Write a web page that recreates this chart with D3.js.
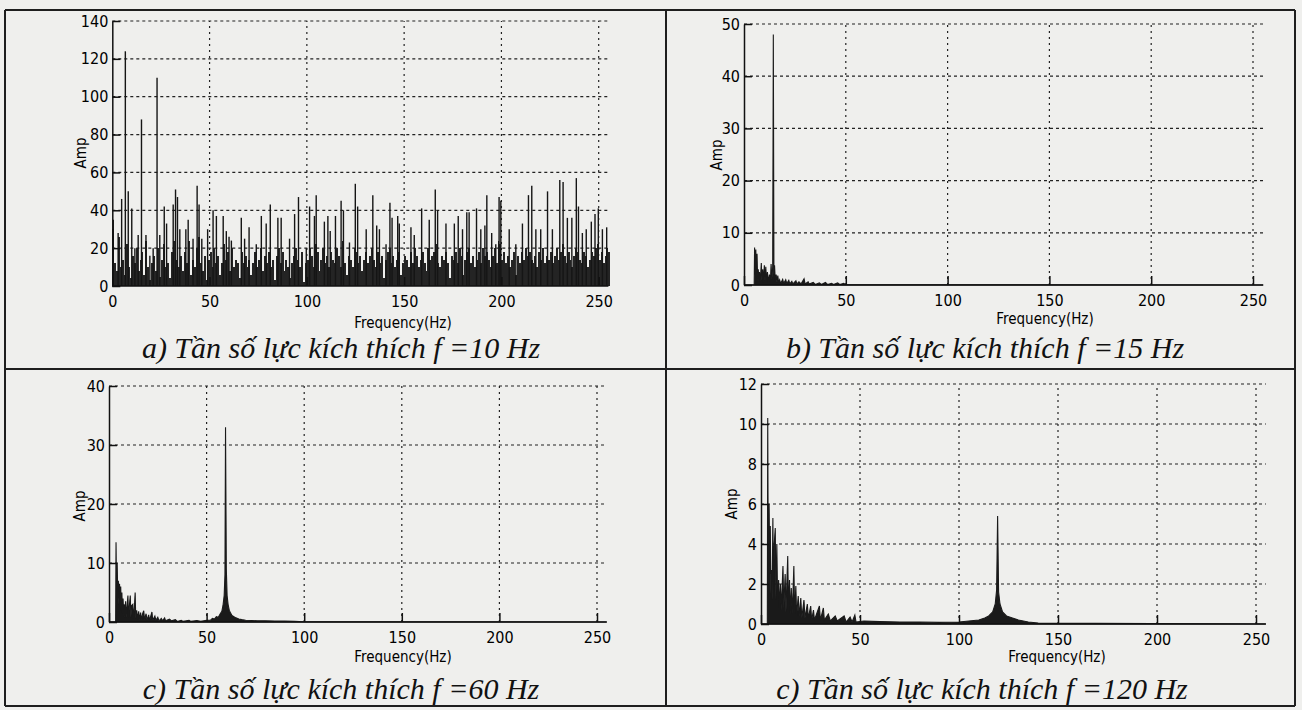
<!DOCTYPE html>
<html lang="vi">
<head>
<meta charset="utf-8">
<title>Phổ biên độ</title>
<script src="https://cdn.jsdelivr.net/npm/d3@7"></script>
<style>
  body { margin: 0; background: #efefed; }
  .frame line { stroke: #1e1e1e; stroke-width: 2; }
  .grid line { stroke: #222; stroke-width: 1.2; }
  .grid line.h { stroke-dasharray: 3, 3; }
  .grid line.v { stroke-dasharray: 2, 4; }
  .axis path, .axis line { stroke: #111; stroke-width: 1.5; }
  .axis text {
    font-family: "Liberation Sans Narrow", "DejaVu Sans Condensed", sans-serif;
    font-size: 16px;
    fill: #000;
  }
  .lbl {
    font-family: "Liberation Sans Narrow", "DejaVu Sans Condensed", sans-serif;
    font-size: 15px;
    fill: #000;
  }
  .caption {
    font-family: "Liberation Serif", serif;
    font-style: italic;
    font-size: 30px;
    fill: #111;
  }
  .trace { fill: #1a1a1a; stroke: #1a1a1a; stroke-width: 1.1; }
  .spike { stroke: #151515; stroke-width: 1.4; }
  .mass { fill: #242424; shape-rendering: crispEdges; }
</style>
</head>
<body>
<script>

  var w = 1302;
  var h = 710;

  // tick values
  var xTicks = [0, 50, 100, 150, 200, 250];
  var yTicksA = [0, 20, 40, 60, 80, 100, 120, 140];
  var yTicksB = [0, 10, 20, 30, 40, 50];
  var yTicksC = [0, 10, 20, 30, 40];
  var yTicksD = [0, 2, 4, 6, 8, 10, 12];

  var captions = [
    "a) Tần số lực kích thích f =10 Hz",
    "b) Tần số lực kích thích f =15 Hz",
    "c) Tần số lực kích thích f =60 Hz",
    "c) Tần số lực kích thích f =120 Hz"
  ];

  // a) background level per 1 Hz bin (0..255 Hz)
  var baseA = [
    30, 12, 8, 26, 10, 14, 6, 22, 10, 4, 16, 12, 20, 8, 14, 18,
    6, 24, 10, 3, 12, 16, 8, 20, 5, 14, 22, 10, 12, 4, 18, 24,
    14, 20, 10, 16, 8, 18, 12, 24, 6, 14, 10, 20, 26, 12, 8, 16,
    3, 14, 18, 10, 20, 12, 16, 6, 12, 22, 14, 18, 8, 20, 10, 14,
    12, 4, 18, 12, 16, 10, 14, 6, 12, 18, 10, 14, 20, 8, 16, 12,
    18, 10, 14, 3, 16, 20, 12, 18, 8, 14, 10, 4, 12, 16, 20, 14,
    10, 18, 2, 12, 14, 20, 16, 10, 22, 18, 8, 14, 20, 12, 16, 10,
    18, 14, 12, 20, 16, 10, 24, 12, 6, 16, 14, 10, 20, 18, 12, 16,
    8, 14, 18, 12, 16, 20, 14, 10, 18, 12, 16, 4, 14, 18, 20, 12,
    16, 10, 14, 18, 6, 12, 16, 14, 10, 18, 12, 20, 16, 10, 14, 18,
    12, 8, 20, 14, 16, 18, 22, 12, 10, 16, 14, 18, 12, 4, 16, 14,
    18, 12, 20, 16, 6, 14, 18, 20, 12, 16, 10, 14, 18, 12, 20, 16,
    18, 14, 10, 16, 20, 12, 24, 22, 14, 18, 12, 16, 10, 14, 18, 6,
    16, 12, 18, 14, 20, 16, 18, 14, 12, 16, 10, 18, 14, 20, 12, 16,
    14, 18, 12, 16, 20, 14, 18, 22, 16, 12, 18, 14, 10, 16, 20, 18,
    14, 12, 18, 16, 10, 14, 18, 16, 20, 22, 14, 18, 12, 16, 20, 18
  ];

  // a) spikes [Hz, Amp]
  var spikesA = [
    [0.5, 35], [3, 28], [4.8, 46], [6.7, 124], [8.2, 50], [10, 41], [11.6, 20], [13.3, 27],
    [15, 88], [17.3, 27], [19.3, 16], [21, 20], [23, 110], [24.4, 27], [26.7, 42], [27.9, 33],
    [31.3, 43], [32.5, 51], [33.5, 47], [34.7, 30], [37.8, 30], [39, 35], [41.5, 25], [43.6, 53],
    [44.6, 43], [46, 25], [49, 30], [51.8, 40], [53.5, 37], [57, 37], [58.6, 29], [60, 26],
    [61.2, 24], [66.3, 36], [68, 25], [70.3, 31], [74, 22], [76.6, 37], [79.1, 33], [81.2, 43],
    [85.1, 36], [86.8, 36], [91.1, 25], [93.7, 38], [95.7, 47], [99.7, 20], [101.4, 42], [103.9, 37],
    [104.8, 48], [109, 34], [110.8, 37], [112, 29], [114.7, 37], [117.6, 45], [118.8, 40], [121.9, 23],
    [124.9, 54], [126.1, 42], [130.5, 30], [133.9, 48], [135.9, 32], [137.3, 30], [140.7, 22], [142.7, 44],
    [143.8, 36], [146.7, 37], [147.5, 33], [153.5, 31], [155.2, 27], [159, 41], [162.9, 35], [166, 51],
    [167.2, 40], [171.5, 33], [175.8, 33], [177.8, 37], [180, 30], [182.2, 39], [183.4, 39], [187.2, 41],
    [189.4, 30], [191.5, 32], [192.5, 48], [195, 28], [197.1, 22], [198.8, 47], [199.7, 45], [204, 30],
    [207.4, 22], [210.8, 33], [213.9, 48], [215.6, 53], [217.7, 30], [220.2, 30], [223.7, 50], [226.2, 30],
    [230, 56], [231.7, 55], [233.9, 36], [236.2, 36], [238.5, 57], [239.6, 42], [241.6, 28], [243.6, 30],
    [246.2, 34], [248.1, 38], [249.8, 41], [251.9, 30], [254.1, 31]
  ];

  // b) traced spectrum [Hz, Amp]
  var traceB = [
    [0, 0], [5, 0], [5.2, 7.2], [5.5, 2], [5.8, 6.8], [6.1, 1.5], [6.4, 6], [6.7, 1], [7, 3], [7.3, 0.8],
    [7.6, 2.5], [8, 0.6], [8.5, 4.2], [8.8, 0.8], [9.2, 3], [9.5, 0.5], [10, 3.8], [10.3, 0.8], [10.7, 3.5], [11.1, 0.6],
    [11.5, 2.5], [12, 0.5], [12.5, 2], [13, 0.8], [13.3, 4], [13.7, 1], [14.1, 3.5], [14.4, 48], [14.7, 2], [15, 3.8],
    [15.4, 0.6], [15.8, 2], [16.2, 0.5], [16.6, 1.8], [17, 0.4], [17.5, 1], [18, 0.3], [19, 1.1], [19.5, 0.3], [20.5, 1],
    [21, 0.3], [22, 0.9], [22.5, 0.2], [23.5, 0.7], [24, 0.2], [25.5, 0.8], [26, 0.2], [27, 0.6], [28, 0.2], [29.5, 1.2],
    [30, 0.2], [31.5, 0.6], [32, 0.2], [34, 0.5], [35, 0.1], [37, 0.4], [38, 0.1], [40, 0.5], [41, 0.1], [43, 0.3],
    [44, 0.1], [46, 0.4], [47, 0.1], [49, 0.3], [50, 0.05], [255, 0]
  ];

  // c) traced spectrum [Hz, Amp]
  var traceC = [
    [0, 0], [3.4, 0], [3.6, 13.5], [3.9, 3], [4.2, 10], [4.5, 4], [4.8, 7], [5.1, 3], [5.4, 6.5], [5.7, 2.5],
    [6, 6], [6.3, 2], [6.6, 5], [6.9, 1.5], [7.2, 4], [7.5, 1], [7.8, 3], [8.1, 0.8], [8.5, 3.5], [8.8, 0.8],
    [9.2, 2.5], [9.7, 4.5], [10, 0.8], [10.5, 3], [10.9, 4.5], [11.2, 0.8], [11.6, 2.8], [12.2, 3], [12.5, 0.6], [13, 2.5],
    [13.4, 5], [13.7, 0.6], [14.2, 2], [14.6, 0.5], [15.2, 1.8], [15.6, 0.4], [16.2, 1.6], [16.6, 0.4], [17.3, 1.5], [17.8, 1.9],
    [18.2, 0.4], [19, 1.4], [19.5, 0.3], [20.3, 1.2], [20.8, 0.3], [22, 1.7], [22.4, 0.3], [23.5, 1], [24, 0.3], [25, 0.8],
    [25.6, 0.2], [26.8, 0.6], [27.4, 0.2], [28.5, 0.7], [29, 0.2], [31, 0.5], [32, 0.2], [34, 0.4], [35, 0.1], [37, 0.3],
    [38, 0.1], [41, 0.3], [42, 0.1], [45, 0.25], [47, 0.1], [50, 0.3], [52, 0.3], [53, 0.6], [54, 0.5], [55, 0.9],
    [56, 0.8], [57, 1.4], [57.8, 1.8], [58.4, 2.8], [59, 4.5], [59.4, 8], [59.7, 33], [60.1, 9], [60.5, 4.5], [61, 3],
    [61.6, 2], [62.3, 1.5], [63, 1.1], [64, 0.9], [65, 0.7], [66.5, 0.5], [68, 0.4], [70, 0.3], [73, 0.25], [76, 0.2],
    [80, 0.2], [85, 0.15], [90, 0.15], [95, 0.1], [100, 0.05], [255, 0]
  ];

  // d) traced spectrum [Hz, Amp]
  var traceD = [
    [0, 0], [3.2, 0], [3.4, 10.3], [3.7, 2], [4.1, 6], [4.4, 2.5], [4.7, 4.9], [5, 1.5], [5.3, 2.7], [5.6, 1.2],
    [6, 5.3], [6.3, 1.5], [6.7, 4], [7.2, 4.8], [7.5, 1.2], [8, 4], [8.4, 1], [8.9, 2.2], [9.3, 0.8], [9.8, 2],
    [10.2, 0.7], [11.1, 2.9], [11.5, 0.8], [12.2, 2.5], [12.6, 0.6], [13.5, 3.4], [13.9, 0.7], [14.4, 2.2], [14.8, 0.5], [15.3, 1.8],
    [15.8, 0.5], [16.6, 2.9], [17, 0.5], [17.6, 1.9], [18, 0.4], [18.8, 1.4], [19.3, 0.4], [20.1, 1.3], [20.6, 0.3], [21.7, 1.2],
    [22.2, 0.3], [23.4, 1], [23.9, 0.3], [25.1, 0.9], [25.6, 0.2], [26.5, 0.7], [27, 0.2], [29.5, 0.9], [30, 0.2], [31.5, 0.8],
    [32, 0.2], [34, 0.5], [35, 0.15], [37.5, 0.4], [38.5, 0.15], [42, 0.4], [43, 0.1], [45, 0.35], [46, 0.1], [47.4, 0.45],
    [48, 0.1], [52, 0.15], [60, 0.12], [70, 0.1], [80, 0.1], [90, 0.08], [100, 0.1], [105, 0.15], [110, 0.2], [113, 0.3],
    [115, 0.4], [117, 0.6], [118.3, 1], [119, 1.7], [119.5, 5.4], [120, 1.6], [120.7, 1], [122, 0.6], [124, 0.4], [127, 0.3],
    [130, 0.2], [135, 0.1], [140, 0.05], [255, 0]
  ];

  var panels = [
    { yMax: 140, yTicks: yTicksA, x0: 112.3, x250: 598.7, yTop: 21, yBot: 286,
      amp: [81, 153], freq: [403, 328], cap: [341, 358], caption: captions[0] },
    { yMax: 50, yTicks: yTicksB, trace: traceB, x0: 744, x250: 1253, yTop: 24, yBot: 285,
      amp: [717, 155], freq: [1045, 324], cap: [985, 358], caption: captions[1] },
    { yMax: 40, yTicks: yTicksC, trace: traceC, x0: 109, x250: 597, yTop: 386, yBot: 622,
      amp: [80, 506], freq: [403, 662], cap: [341, 699], caption: captions[2] },
    { yMax: 12, yTicks: yTicksD, trace: traceD, x0: 761, x250: 1256, yTop: 384, yBot: 624,
      amp: [732, 504], freq: [1057, 662], cap: [982, 699], caption: captions[3] }
  ];

  var svg = d3.select("body")
    .append("svg")
    .attr("width", w)
    .attr("height", h);

  //Table frame around the four figures
  var frame = svg.append("g").attr("class", "frame");
  [[5, 10, 1295, 10], [5, 369, 1295, 369], [5, 706, 1295, 706],
   [5, 10, 5, 706], [666, 10, 666, 706], [1295, 10, 1295, 706]].forEach(function (l) {
    frame.append("line")
      .attr("x1", l[0]).attr("y1", l[1])
      .attr("x2", l[2]).attr("y2", l[3]);
  });

  panels.forEach(function (p, i) {
    var xScale = d3.scaleLinear()
      .domain([0, 250])
      .range([p.x0, p.x250]);
    var xEnd = xScale(255);
    var yScale = d3.scaleLinear()
      .domain([0, p.yMax])
      .range([p.yBot, p.yTop]);

    var g = svg.append("g");

    //Dotted grid first, so it sits behind the data
    var grid = g.append("g").attr("class", "grid");
    grid.selectAll("line.v")
      .data(xTicks.slice(1))
      .enter()
      .append("line")
      .attr("class", "v")
      .attr("x1", function (d) { return xScale(d); })
      .attr("x2", function (d) { return xScale(d); })
      .attr("y1", p.yBot)
      .attr("y2", p.yTop);
    grid.selectAll("line.h")
      .data(p.yTicks.slice(1))
      .enter()
      .append("line")
      .attr("class", "h")
      .attr("x1", p.x0)
      .attr("x2", xEnd)
      .attr("y1", function (d) { return yScale(d); })
      .attr("y2", function (d) { return yScale(d); });

    if (i === 0) {
      // dense floor of the spectrum, one bar per Hz
      g.selectAll("rect.mass")
        .data(baseA)
        .enter()
        .append("rect")
        .attr("class", "mass")
        .attr("x", function (d, k) { return xScale(k); })
        .attr("width", function (d, k) { return xScale(k + 1) - xScale(k); })
        .attr("y", function (d) { return yScale(d); })
        .attr("height", function (d) { return p.yBot - yScale(d); });

      g.selectAll("line.spike")
        .data(spikesA)
        .enter()
        .append("line")
        .attr("class", "spike")
        .attr("x1", function (d) { return xScale(d[0]); })
        .attr("x2", function (d) { return xScale(d[0]); })
        .attr("y1", p.yBot)
        .attr("y2", function (d) { return yScale(d[1]); });
    } else {
      var area = d3.area()
        .x(function (d) { return xScale(d[0]); })
        .y0(p.yBot)
        .y1(function (d) { return yScale(d[1]); });
      g.append("path")
        .datum(p.trace)
        .attr("class", "trace")
        .attr("d", area);
    }

    //Axes on top
    var xAxis = d3.axisBottom(xScale)
      .tickValues(xTicks)
      .tickSizeInner(-9)
      .tickSizeOuter(0)
      .tickPadding(10);
    var xg = g.append("g")
      .attr("class", "axis")
      .attr("transform", "translate(0," + p.yBot + ")")
      .call(xAxis);
    // stretch the bottom axis line out to 255 Hz
    xg.select(".domain").attr("d", "M" + p.x0 + ",0H" + xEnd);

    var yAxis = d3.axisLeft(yScale)
      .tickValues(p.yTicks)
      .tickSizeInner(-8)
      .tickSizeOuter(0)
      .tickPadding(4);
    g.append("g")
      .attr("class", "axis")
      .attr("transform", "translate(" + p.x0 + ",0)")
      .call(yAxis);

    g.append("text")
      .attr("class", "lbl")
      .attr("transform", "translate(" + p.amp[0] + "," + p.amp[1] + ") rotate(-90)")
      .attr("text-anchor", "middle")
      .attr("dy", "0.35em")
      .text("Amp");

    g.append("text")
      .attr("class", "lbl")
      .attr("x", p.freq[0])
      .attr("y", p.freq[1])
      .attr("text-anchor", "middle")
      .text("Frequency(Hz)");

    g.append("text")
      .attr("class", "caption")
      .attr("x", p.cap[0])
      .attr("y", p.cap[1])
      .attr("text-anchor", "middle")
      .text(p.caption);
  });

</script>
</body>
</html>
